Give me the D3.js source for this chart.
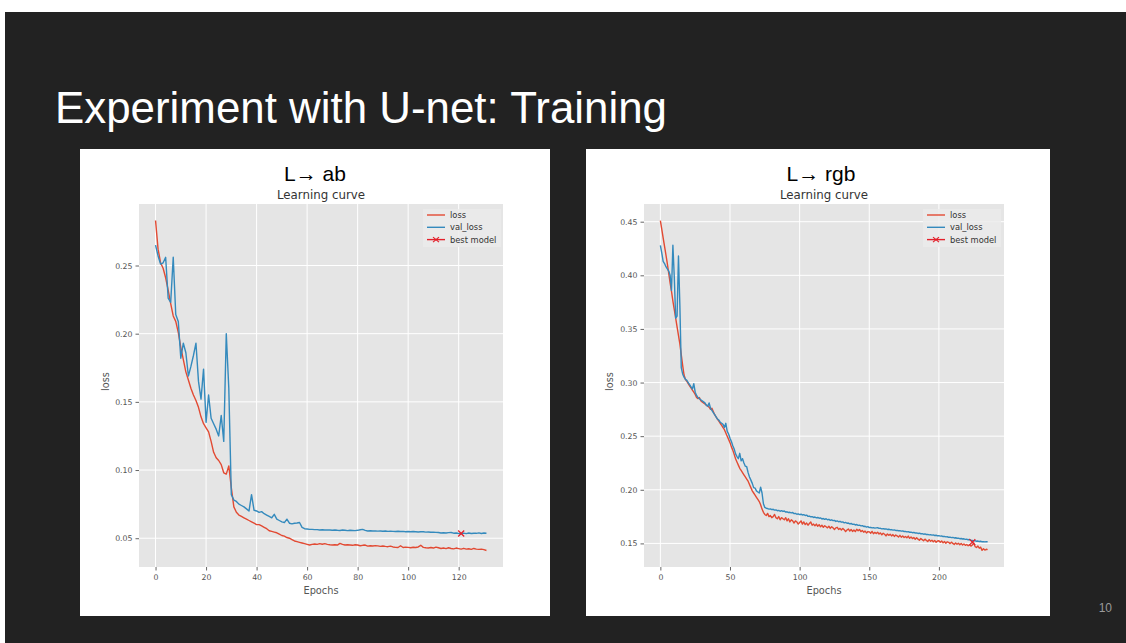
<!DOCTYPE html>
<html>
<head>
<meta charset="utf-8">
<script src="https://cdn.jsdelivr.net/npm/d3@7"></script>
<style>
  body { margin: 0; background: #fff; }
  svg { display: block; }
</style>
</head>
<body>
<svg id="slide"></svg>
<script>
// ---- data (one value per epoch) ----
let abLoss = [
  0.283, 0.262, 0.252, 0.248, 0.241, 0.232, 0.222, 0.213, 0.209, 0.201,
  0.190, 0.181, 0.172, 0.166, 0.160, 0.155, 0.151, 0.146, 0.139, 0.134,
  0.131, 0.128, 0.121, 0.113, 0.109, 0.107, 0.104, 0.098, 0.097, 0.103,
  0.087, 0.073, 0.069, 0.067, 0.066, 0.065, 0.064, 0.063, 0.062, 0.061,
  0.060, 0.0600, 0.059, 0.058, 0.057, 0.0555, 0.055, 0.0545, 0.054, 0.053,
  0.052, 0.0515, 0.0505, 0.050, 0.049, 0.048, 0.0475, 0.047, 0.0465, 0.046,
  0.0455, 0.045, 0.0455, 0.0458, 0.0455, 0.046, 0.0456, 0.046, 0.0455, 0.0452,
  0.045, 0.0452, 0.045, 0.0462, 0.0455, 0.045, 0.0452, 0.045, 0.0448, 0.0452,
  0.045, 0.0445, 0.0448, 0.045, 0.0442, 0.0445, 0.0443, 0.0446, 0.0444, 0.044,
  0.0443, 0.044, 0.0438, 0.0442, 0.0436, 0.0433, 0.0432, 0.0445, 0.0432, 0.0435,
  0.0433, 0.043, 0.0434, 0.0432, 0.0436, 0.0448, 0.0433, 0.043, 0.0428, 0.0432,
  0.0428, 0.0435, 0.043, 0.0425, 0.0428, 0.0424, 0.043, 0.0425, 0.0422, 0.0428,
  0.0424, 0.042, 0.0426, 0.042, 0.0423, 0.0418, 0.0425, 0.042, 0.0418, 0.042,
  0.0416, 0.041
]

let abValLoss = [
  0.265, 0.257, 0.251, 0.252, 0.256, 0.226, 0.223, 0.256, 0.214, 0.209,
  0.182, 0.193, 0.186, 0.169, 0.176, 0.184, 0.193, 0.165, 0.152, 0.174,
  0.135, 0.155, 0.138, 0.134, 0.130, 0.125, 0.140, 0.121, 0.200, 0.160,
  0.082, 0.078, 0.077, 0.075, 0.074, 0.073, 0.0715, 0.070, 0.082, 0.0705,
  0.070, 0.069, 0.0695, 0.068, 0.067, 0.066, 0.065, 0.0675, 0.064, 0.063,
  0.062, 0.0615, 0.064, 0.061, 0.0605, 0.061, 0.0612, 0.0615, 0.058, 0.057,
  0.0568, 0.0565, 0.0565, 0.0563, 0.0563, 0.056, 0.0562, 0.056, 0.0561, 0.056,
  0.0558, 0.056, 0.0558, 0.0557, 0.056, 0.0558, 0.0556, 0.0558, 0.0557, 0.0556,
  0.0558, 0.0562, 0.0565, 0.0558, 0.0553, 0.0555, 0.0553, 0.0554, 0.0552, 0.0553,
  0.0551, 0.0553, 0.055, 0.0552, 0.055, 0.0549, 0.0551, 0.0549, 0.055, 0.0548,
  0.0549, 0.0547, 0.0549, 0.0548, 0.0546, 0.0548, 0.0547, 0.0545, 0.0546, 0.0544,
  0.0545, 0.0543, 0.0542, 0.0538, 0.054, 0.0538, 0.0541, 0.0542, 0.0537, 0.0538,
  0.0535, 0.0533, 0.0537, 0.0534, 0.0538, 0.0535, 0.0537, 0.0536, 0.0539, 0.0535,
  0.0538, 0.0537
]

let rgbLoss = [
  0.451, 0.443, 0.435, 0.427, 0.419, 0.411, 0.402, 0.393, 0.385, 0.376,
  0.368, 0.360, 0.352, 0.344, 0.336, 0.326, 0.316, 0.307, 0.303, 0.301,
  0.299, 0.297, 0.295, 0.293, 0.291, 0.289, 0.286, 0.285, 0.286, 0.283,
  0.282, 0.281, 0.280, 0.279, 0.278, 0.277, 0.275, 0.276, 0.273, 0.270,
  0.268, 0.266, 0.264, 0.262, 0.260, 0.258, 0.256, 0.253, 0.250, 0.247,
  0.244, 0.240, 0.237, 0.233, 0.229, 0.226, 0.223, 0.220, 0.218, 0.216,
  0.214, 0.212, 0.210, 0.208, 0.205, 0.202, 0.199, 0.197, 0.195, 0.193,
  0.191, 0.189, 0.186, 0.182, 0.179, 0.177, 0.176, 0.178, 0.175, 0.176,
  0.174, 0.175, 0.177, 0.174, 0.173, 0.175, 0.172, 0.174, 0.173, 0.172,
  0.174, 0.171, 0.173, 0.170, 0.172, 0.171, 0.169, 0.171, 0.170, 0.168,
  0.1695, 0.171, 0.168, 0.170, 0.1675, 0.169, 0.167, 0.1685, 0.170, 0.167,
  0.168, 0.1665, 0.168, 0.166, 0.1675, 0.1655, 0.167, 0.165, 0.1665, 0.1655,
  0.1645, 0.166, 0.164, 0.1655, 0.1645, 0.163, 0.1645, 0.165, 0.163, 0.164,
  0.1625, 0.164, 0.1628, 0.161, 0.1625, 0.1635, 0.1615, 0.163, 0.1612, 0.1625,
  0.161, 0.1632, 0.1618, 0.163, 0.161, 0.162, 0.1605, 0.1615, 0.1598, 0.161,
  0.1608, 0.1595, 0.1612, 0.159, 0.1603, 0.1592, 0.1605, 0.1588, 0.1598, 0.158,
  0.1595, 0.1585, 0.157, 0.1588, 0.1575, 0.1585, 0.157, 0.1582, 0.1565, 0.1578,
  0.157, 0.156, 0.1575, 0.1558, 0.157, 0.1555, 0.1565, 0.1552, 0.1568, 0.1548,
  0.156, 0.1545, 0.1555, 0.1538, 0.1552, 0.154, 0.153, 0.1545, 0.1535, 0.1525,
  0.154, 0.1528, 0.1518, 0.1535, 0.152, 0.153, 0.1515, 0.1528, 0.151, 0.1522,
  0.1525, 0.151, 0.1522, 0.1505, 0.1518, 0.1502, 0.1515, 0.151, 0.1498, 0.1512,
  0.150, 0.149, 0.1505, 0.1492, 0.1502, 0.1488, 0.150, 0.1485, 0.1495, 0.1482,
  0.149, 0.1478, 0.1488, 0.1475, 0.1485, 0.1505, 0.147, 0.1462, 0.1475, 0.1455,
  0.1465, 0.1435, 0.145, 0.1438, 0.1445, 0.1442
]

let rgbValLoss = [
  0.428, 0.421, 0.413, 0.411, 0.408, 0.406, 0.404, 0.400, 0.386, 0.428,
  0.398, 0.360, 0.362, 0.418, 0.372, 0.314, 0.308, 0.305, 0.303, 0.302,
  0.300, 0.298, 0.296, 0.294, 0.299, 0.291, 0.288, 0.286, 0.285, 0.284,
  0.283, 0.282, 0.281, 0.279, 0.278, 0.281, 0.276, 0.274, 0.272, 0.270,
  0.268, 0.266, 0.265, 0.263, 0.262, 0.261, 0.258, 0.262, 0.2545, 0.252,
  0.248, 0.245, 0.241, 0.238, 0.2335, 0.231, 0.229, 0.234, 0.227, 0.229,
  0.225, 0.222, 0.2215, 0.216, 0.212, 0.209, 0.206, 0.202, 0.2015, 0.199,
  0.198, 0.197, 0.2025, 0.197, 0.187, 0.1835, 0.1828, 0.1825, 0.182, 0.1822,
  0.1815, 0.1818, 0.181, 0.1812, 0.1805, 0.1808, 0.180, 0.1805, 0.1798, 0.1802,
  0.1792, 0.1795, 0.1788, 0.179, 0.1785, 0.1788, 0.1778, 0.178, 0.1772, 0.1775,
  0.1768, 0.1772, 0.1765, 0.1768, 0.176, 0.1764, 0.1752, 0.1755, 0.1748, 0.175,
  0.1742, 0.1746, 0.1738, 0.1742, 0.1735, 0.1738, 0.1728, 0.1732, 0.1725, 0.173,
  0.172, 0.1725, 0.1715, 0.172, 0.1712, 0.1715, 0.1705, 0.171, 0.1702, 0.1706,
  0.1698, 0.170, 0.1692, 0.1696, 0.1688, 0.169, 0.1682, 0.1686, 0.1678, 0.168,
  0.1672, 0.1676, 0.1668, 0.167, 0.1664, 0.1666, 0.1658, 0.166, 0.1652, 0.1656,
  0.1648, 0.1650, 0.1645, 0.1647, 0.1643, 0.1645, 0.1647, 0.1640, 0.1641, 0.1636,
  0.1638, 0.1634, 0.1635, 0.1630, 0.1632, 0.1628, 0.1629, 0.1624, 0.1626, 0.1621,
  0.1622, 0.1618, 0.1619, 0.1614, 0.1616, 0.1611, 0.1612, 0.1607, 0.1609, 0.1604,
  0.1605, 0.1600, 0.1602, 0.1597, 0.1598, 0.1593, 0.1595, 0.1590, 0.1591, 0.1586,
  0.1588, 0.1583, 0.1584, 0.1580, 0.1582, 0.1577, 0.1579, 0.1574, 0.1576, 0.1571,
  0.1572, 0.1568, 0.1569, 0.1564, 0.1566, 0.1561, 0.1562, 0.1557, 0.1559, 0.1554,
  0.1556, 0.1551, 0.1553, 0.1548, 0.1549, 0.1544, 0.1546, 0.1541, 0.1543, 0.1538,
  0.1540, 0.1534, 0.1536, 0.1530, 0.1528, 0.1524, 0.1526, 0.1520, 0.1522, 0.1518,
  0.1520, 0.1515, 0.1517, 0.1514, 0.1516, 0.1515
]

// best model marker: [epoch, val_loss]
let abBest = [121, 0.0535]
let rgbBest = [224, 0.1512]

let abXTicks = [0, 20, 40, 60, 80, 100, 120]
let abYTicks = [0.05, 0.10, 0.15, 0.20, 0.25]
let rgbXTicks = [0, 50, 100, 150, 200]
let rgbYTicks = [0.15, 0.20, 0.25, 0.30, 0.35, 0.40, 0.45]

let legendLabels = ["loss", "val_loss", "best model"]

// ---- drawing ----
let width = 1126
let height = 643

let lossColor = "#E24A33"
let valColor = "#348ABD"
let bestColor = "#e3212b"

let svg = d3.select("#slide")
    .attr("width", width)
    .attr("height", height)

// slide background
svg.append("rect")
    .attr("x", 5).attr("y", 12)
    .attr("width", width - 5).attr("height", height - 12)
    .attr("fill", "#222222")

svg.append("text")
    .attr("x", 55)
    .attr("y", 123)
    .attr("fill", "#ffffff")
    .attr("font-family", "Liberation Sans, Arial, sans-serif")
    .attr("font-size", 45)
    .attr("textLength", 612)
    .attr("lengthAdjust", "spacingAndGlyphs")
    .text("Experiment with U-net: Training")

svg.append("text")
    .attr("x", 1112)
    .attr("y", 612)
    .attr("text-anchor", "end")
    .attr("fill", "#9a9a9a")
    .attr("font-family", "Liberation Sans, Arial, sans-serif")
    .attr("font-size", 12)
    .text("10")

function drawPanel(p) {
  let g = svg.append("g")

  g.append("rect")
      .attr("x", p.box[0]).attr("y", p.box[1])
      .attr("width", p.box[2]).attr("height", p.box[3])
      .attr("fill", "#ffffff")

  let x = d3.scaleLinear().domain(p.xDomain).range([p.plot.x0, p.plot.x1])
  let y = d3.scaleLinear().domain(p.yDomain).range([p.plot.y1, p.plot.y0])

  g.append("text")
      .attr("x", p.titleX).attr("y", 181)
      .attr("text-anchor", "middle")
      .attr("font-family", "Liberation Sans, Arial, sans-serif")
      .attr("font-size", 21)
      .attr("fill", "#000")
      .text(p.title)

  g.append("text")
      .attr("x", (p.plot.x0 + p.plot.x1) / 2).attr("y", 199)
      .attr("text-anchor", "middle")
      .attr("font-family", "DejaVu Sans, sans-serif")
      .attr("font-size", 11.8)
      .attr("fill", "#333")
      .text("Learning curve")

  g.append("rect")
      .attr("x", p.plot.x0).attr("y", p.plot.y0)
      .attr("width", p.plot.x1 - p.plot.x0)
      .attr("height", p.plot.y1 - p.plot.y0)
      .attr("fill", "#E5E5E5")

  // grid
  g.selectAll(".gx").data(p.xTicks).enter().append("line")
      .attr("x1", d => x(d)).attr("x2", d => x(d))
      .attr("y1", p.plot.y0).attr("y2", p.plot.y1)
      .attr("stroke", "#fff").attr("stroke-width", 1)
  g.selectAll(".gy").data(p.yTicks).enter().append("line")
      .attr("y1", d => y(d)).attr("y2", d => y(d))
      .attr("x1", p.plot.x0).attr("x2", p.plot.x1)
      .attr("stroke", "#fff").attr("stroke-width", 1)

  // axes
  let xAxis = g.append("g")
      .attr("transform", "translate(0," + p.plot.y1 + ")")
      .call(d3.axisBottom(x).tickValues(p.xTicks).tickSize(3.5).tickPadding(4).tickFormat(d3.format("d")))
  let yAxis = g.append("g")
      .attr("transform", "translate(" + p.plot.x0 + ",0)")
      .call(d3.axisLeft(y).tickValues(p.yTicks).tickSize(3.5).tickPadding(3).tickFormat(d3.format(".2f")))

  ;[xAxis, yAxis].forEach(a => {
    a.select(".domain").remove()
    a.selectAll("line").attr("stroke", "#666")
    a.selectAll("text")
        .attr("fill", "#555")
        .attr("font-family", "DejaVu Sans, sans-serif")
        .attr("font-size", 7.8)
  })

  g.append("text")
      .attr("x", (p.plot.x0 + p.plot.x1) / 2).attr("y", 594)
      .attr("text-anchor", "middle")
      .attr("font-family", "DejaVu Sans, sans-serif")
      .attr("font-size", 9.8)
      .attr("fill", "#555")
      .text("Epochs")

  g.append("text")
      .attr("transform", "translate(" + p.ylabelX + "," + ((p.plot.y0 + p.plot.y1) / 2 - 4) + ") rotate(-90)")
      .attr("text-anchor", "middle")
      .attr("font-family", "DejaVu Sans, sans-serif")
      .attr("font-size", 9.8)
      .attr("fill", "#555")
      .text("loss")

  let line = d3.line()
      .x((d, i) => x(i))
      .y(d => y(d))

  g.append("path")
      .attr("d", line(p.loss))
      .attr("fill", "none")
      .attr("stroke", lossColor)
      .attr("stroke-width", 1.4)
      .attr("stroke-linejoin", "round")

  g.append("path")
      .attr("d", line(p.valLoss))
      .attr("fill", "none")
      .attr("stroke", valColor)
      .attr("stroke-width", 1.4)
      .attr("stroke-linejoin", "round")

  let bx = x(p.best[0]), by = y(p.best[1]), s = 3
  g.append("path")
      .attr("d", `M${bx - s},${by - s}L${bx + s},${by + s}M${bx - s},${by + s}L${bx + s},${by - s}`)
      .attr("stroke", bestColor)
      .attr("stroke-width", 1.3)

  // legend
  let lg = g.append("g").attr("transform", "translate(" + p.legendX + ",209)")
  lg.append("rect")
      .attr("x", 0).attr("y", 0).attr("width", 78).attr("height", 38)
      .attr("fill", "#ebebeb").attr("opacity", 0.8)
  let colors = [lossColor, valColor, bestColor]
  legendLabels.forEach((lab, i) => {
    let ly = 6 + i * 12.3
    lg.append("line")
        .attr("x1", 4).attr("x2", 22).attr("y1", ly).attr("y2", ly)
        .attr("stroke", colors[i]).attr("stroke-width", 1.4)
    if (i == 2) {
      lg.append("path")
          .attr("d", `M10,${ly - 2.5}L16,${ly + 2.5}M10,${ly + 2.5}L16,${ly - 2.5}`)
          .attr("stroke", bestColor).attr("stroke-width", 1.2)
    }
    lg.append("text")
        .attr("x", 27).attr("y", ly + 3)
        .attr("font-family", "DejaVu Sans, sans-serif")
        .attr("font-size", 8.3)
        .attr("fill", "#333")
        .text(lab)
  })
}

drawPanel({
  box: [80, 149, 470, 467],
  plot: { x0: 139, x1: 503, y0: 204, y1: 567 },
  xDomain: [-6.55, 137.55],
  yDomain: [0.0289, 0.2951],
  xTicks: abXTicks, yTicks: abYTicks,
  loss: abLoss, valLoss: abValLoss, best: abBest,
  title: "L\u2192 ab", titleX: 315,
  ylabelX: 109, legendX: 423
})

drawPanel({
  box: [586, 149, 464, 467],
  plot: { x0: 644, x1: 1004, y0: 204, y1: 567 },
  xDomain: [-11.75, 246.75],
  yDomain: [0.128, 0.4665],
  xTicks: rgbXTicks, yTicks: rgbYTicks,
  loss: rgbLoss, valLoss: rgbValLoss, best: rgbBest,
  title: "L\u2192 rgb", titleX: 821,
  ylabelX: 613, legendX: 923
})
</script>
</body>
</html>
